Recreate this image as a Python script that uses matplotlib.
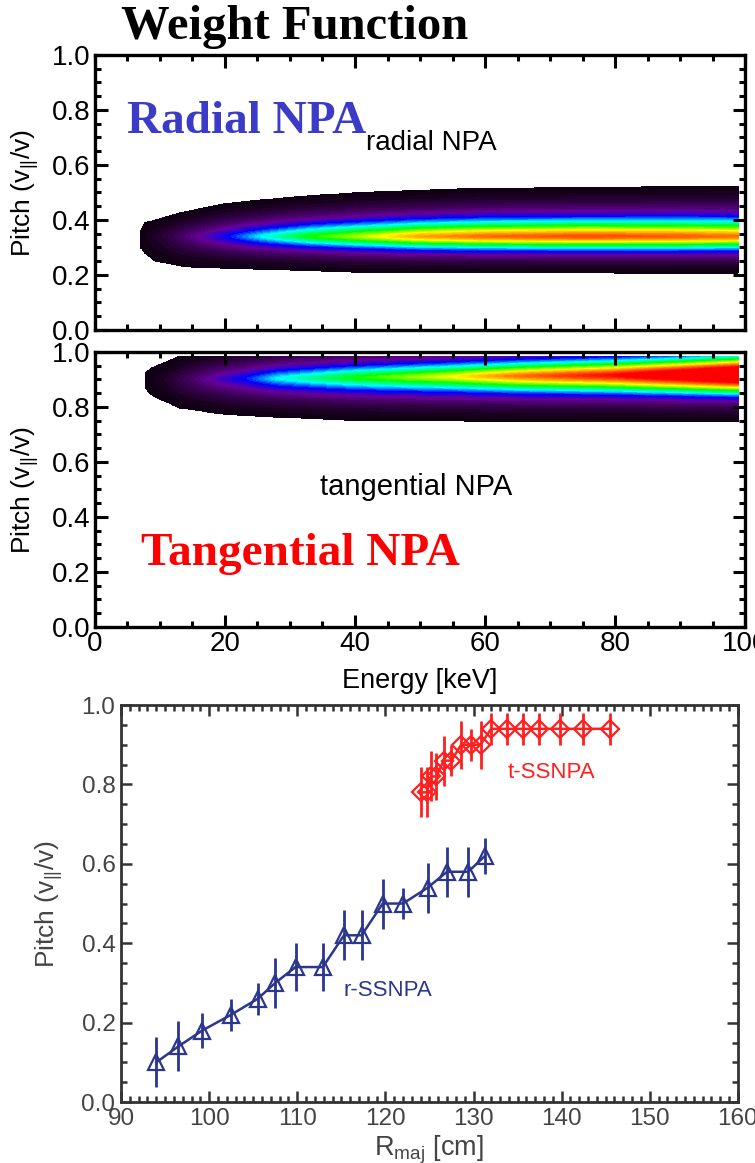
import numpy as np
import matplotlib.pyplot as plt
from matplotlib.colors import LinearSegmentedColormap, Normalize
from matplotlib.ticker import MultipleLocator

plt.rcParams['font.family'] = ['Liberation Sans', 'DejaVu Sans']
plt.rcParams['mathtext.default'] = 'regular'

# --- weight function, radial NPA (per energy) ---
rad_center = 0.34
rad_edge_e = [6.5, 6.9, 7.6, 9.2, 13.7, 20, 30, 40, 60, 80, 99]
rad_top = [0.35, 0.36, 0.39, 0.40, 0.43, 0.46, 0.483, 0.50, 0.516, 0.52, 0.524]
rad_bot = [0.31, 0.30, 0.28, 0.25, 0.23, 0.223, 0.217, 0.21, 0.208, 0.207, 0.207]
rad_amp_e = [6.5, 6.9, 10, 17, 21, 26, 33, 44, 50, 60, 75, 90, 99]
rad_amp = [0.0, 0.032, 0.08, 0.24, 0.33, 0.44, 0.57, 0.71, 0.80, 0.86, 0.90, 0.88, 0.85]

# --- weight function, tangential NPA ---
tan_center_e = [7.2, 30, 60, 99]
tan_center = [0.898, 0.905, 0.912, 0.918]
tan_edge_e = [7.2, 7.7, 8.5, 10, 13, 20, 30, 40, 60, 99]
tan_top = [0.91, 0.924, 0.94, 0.955, 0.985, 1.02, 1.04, 1.05, 1.06, 1.08]
tan_bot = [0.885, 0.87, 0.845, 0.827, 0.796, 0.772, 0.76, 0.75, 0.748, 0.748]
tan_amp_e = [7.2, 7.7, 11.5, 18, 23, 28, 40, 55, 65, 80, 90, 99]
tan_amp = [0.0, 0.032, 0.08, 0.23, 0.32, 0.43, 0.57, 0.71, 0.85, 1.0, 1.2, 1.45]
tan_pitch_max = 0.983

# --- measured pitch vs major radius ---
r_R = [94.0, 96.5, 99.2, 102.5, 105.5, 107.5, 109.8, 112.9, 115.3, 117.3, 119.7, 122.0, 124.8, 127.0, 129.4, 131.3]
r_pitch = [0.10, 0.14, 0.18, 0.22, 0.26, 0.30, 0.34, 0.34, 0.42, 0.42, 0.50, 0.50, 0.54, 0.58, 0.58, 0.62]
r_err = [0.063, 0.063, 0.045, 0.04, 0.04, 0.063, 0.06, 0.06, 0.063, 0.063, 0.063, 0.04, 0.063, 0.063, 0.063, 0.045]

t_R = [124.0, 124.7, 125.2, 125.8, 126.6, 127.5, 128.6, 129.7, 130.8, 132.0, 133.8, 135.6, 137.4, 139.8, 142.4, 145.5]
t_pitch = [0.78, 0.78, 0.82, 0.82, 0.86, 0.86, 0.90, 0.90, 0.90, 0.94, 0.94, 0.94, 0.94, 0.94, 0.94, 0.94]
t_err = [0.063, 0.063, 0.063, 0.06, 0.063, 0.04, 0.06, 0.04, 0.06, 0.04, 0.04, 0.04, 0.04, 0.04, 0.04, 0.04]

THRESH = 0.03
Q = 1.3

cmap = LinearSegmentedColormap.from_list("idl_rainbow", [
    (0.0, (0, 0, 0)), (0.07, (0.12, 0, 0.15)), (0.22, (0.4, 0, 0.6)),
    (0.32, (0, 0, 1)), (0.43, (0, 1, 1)), (0.57, (0, 1, 0)),
    (0.71, (1, 1, 0)), (0.85, (1, 0.45, 0)), (1.0, (1, 0, 0))])
cmap.set_over((1, 0, 0))
levels = np.linspace(THRESH, 1.0, 50)


def weight(E, P, cen, top, bot, amp):
    d = P - cen
    x = np.where(d > 0, d / (top - cen), -d / (cen - bot))
    a = np.maximum(amp, 1e-6)
    v = a * np.exp(-np.log(np.maximum(a / THRESH, 1.0)) * np.abs(x) ** Q)
    return np.where((amp > THRESH) & (x <= 1), v, 0.0)


energy = np.linspace(0, 99, 600)

fig = plt.figure(figsize=(7.55, 11.63), dpi=100)

def style_top(ax):
    ax.set_xlim(0, 100)
    ax.set_ylim(0, 1)
    ax.xaxis.set_major_locator(MultipleLocator(20))
    ax.xaxis.set_minor_locator(MultipleLocator(5))
    ax.yaxis.set_major_locator(MultipleLocator(0.2))
    ax.yaxis.set_minor_locator(MultipleLocator(0.05))
    ax.yaxis.set_major_formatter(plt.FormatStrFormatter('%.1f'))
    ax.tick_params(which='both', direction='in', top=True, right=True,
                   labelsize=20, width=2.2, pad=3)
    ax.tick_params(which='major', length=9)
    ax.tick_params(which='minor', length=4.5)
    for s in ax.spines.values():
        s.set_linewidth(2.4)
    ax.set_ylabel(r"Pitch (v$_{||}$/v)", fontsize=19, labelpad=8)

# panel 1: radial
ax1 = fig.add_axes([0.1258, 0.7163, 0.861, 0.2365])
pr = np.linspace(0, 1, 600)
EE, PP = np.meshgrid(energy, pr)
top = np.interp(EE, rad_edge_e, rad_top)
bot = np.interp(EE, rad_edge_e, rad_bot)
amp = np.interp(EE, rad_amp_e, rad_amp, left=0.0)
W1 = weight(EE, PP, rad_center, top, bot, amp)
ax1.contourf(EE, PP, W1, levels=levels, cmap=cmap, norm=Normalize(0, 1), extend='max')
style_top(ax1)
ax1.tick_params(labelbottom=False)
ax1.text(4.9, 0.716, "Radial NPA", fontsize=34, fontweight='bold',
         family=['Liberation Serif', 'DejaVu Serif'], color=(0.23, 0.23, 0.78))
ax1.text(41.7, 0.655, "radial NPA", fontsize=20)

# panel 2: tangential
ax2 = fig.add_axes([0.1258, 0.4609, 0.861, 0.2365])
pt = np.linspace(0, tan_pitch_max, 600)
EE, PP = np.meshgrid(energy, pt)
cen = np.interp(EE, tan_center_e, tan_center)
top = np.interp(EE, tan_edge_e, tan_top)
bot = np.interp(EE, tan_edge_e, tan_bot)
amp = np.interp(EE, tan_amp_e, tan_amp, left=0.0)
W2 = weight(EE, PP, cen, top, bot, amp)
ax2.contourf(EE, PP, W2, levels=levels, cmap=cmap, norm=Normalize(0, 1), extend='max')
style_top(ax2)
ax2.set_xlabel("Energy [keV]", fontsize=19.5, labelpad=8)
ax2.text(49.4, 0.48, "tangential NPA", fontsize=21, ha='center')
ax2.text(7.1, 0.227, "Tangential NPA", fontsize=34, fontweight='bold',
         family=['Liberation Serif', 'DejaVu Serif'], color=(1, 0, 0))

fig.text(0.39, 0.977, "Weight Function", fontsize=35, fontweight='bold',
         family=['Liberation Serif', 'DejaVu Serif'], ha='center', va='center')

# panel 3: pitch vs R
navy = (0.17, 0.21, 0.55)
red = (1.0, 0.12, 0.12)
grey = '#333333'
ax3 = fig.add_axes([0.1603, 0.0524, 0.817, 0.3414])
ax3.errorbar(r_R, r_pitch, yerr=r_err, color=navy, marker='^', ms=12, mfc='none',
             mew=1.6, lw=1.8, elinewidth=2.0, capsize=0)
ax3.errorbar(t_R, t_pitch, yerr=t_err, color=red, marker='D', ms=9.5, mfc='none',
             mew=1.6, lw=1.8, elinewidth=2.0, capsize=0)
ax3.text(115.3, 0.28, "r-SSNPA", fontsize=16, color=navy, va='center')
ax3.text(133.9, 0.83, "t-SSNPA", fontsize=16, color=red, va='center')
ax3.set_xlim(90, 160)
ax3.set_ylim(0, 1)
ax3.xaxis.set_major_locator(MultipleLocator(10))
ax3.xaxis.set_minor_locator(MultipleLocator(1))
ax3.yaxis.set_major_locator(MultipleLocator(0.2))
ax3.yaxis.set_minor_locator(MultipleLocator(0.05))
ax3.yaxis.set_major_formatter(plt.FormatStrFormatter('%.1f'))
ax3.tick_params(which='both', direction='in', top=True, right=True,
                labelsize=17.5, colors=grey, labelcolor='#444444', width=1.8, pad=4)
ax3.tick_params(which='major', length=8)
ax3.tick_params(which='minor', length=4)
for s in ax3.spines.values():
    s.set_linewidth(2.0)
    s.set_color(grey)
ax3.set_ylabel(r"Pitch (v$_{||}$/v)", fontsize=19, color='#444444', labelpad=12)
ax3.set_xlabel(r"R$_{maj}$ [cm]", fontsize=19.5, color='#444444', labelpad=3)

fig.savefig("out.png", dpi=100)
